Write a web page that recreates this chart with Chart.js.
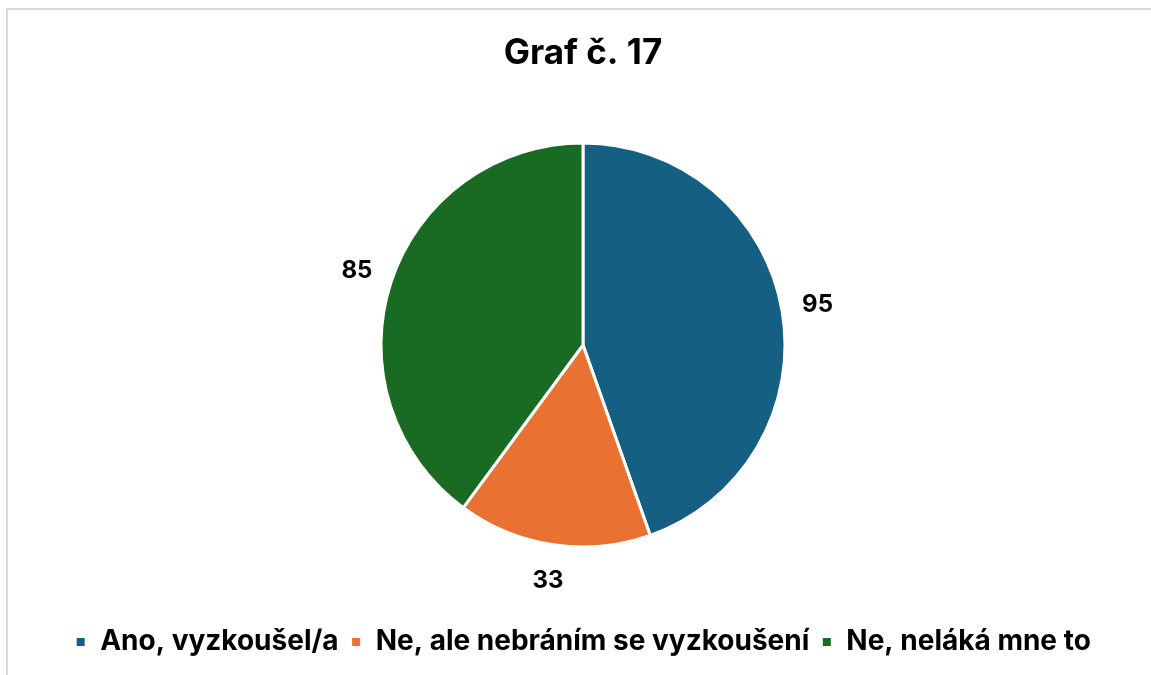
<!DOCTYPE html>
<html>
<head>
<meta charset="utf-8">
<script src="https://cdn.jsdelivr.net/npm/chart.js@4"></script>
<style>
  html, body { margin: 0; padding: 0; background: #fff; }
  #box {
    position: absolute; left: 6px; top: 8px; width: 1145px; height: 667px;
    border-top: 2px solid #d9d9d9; border-left: 2px solid #d9d9d9;
  }
  #wrap { width: 1143px; height: 665px; }
</style>
</head>
<body>
<div id="box"><div id="wrap"><canvas id="pieChart"></canvas></div></div>
<script>
// data
const categories = ["Ano, vyzkoušel/a", "Ne, ale nebráním se vyzkoušení", "Ne, neláká mne to"];
const answers = [95, 33, 85];
const sliceColors = ["#156082", "#E97132", "#196B24"];
const chartTitle = "Graf č. 17";

// value labels outside the slices
const outsideLabels = {
  id: "outsideLabels",
  afterDatasetsDraw(chart) {
    const ctx = chart.ctx;
    const meta = chart.getDatasetMeta(0);
    ctx.save();
    ctx.font = "bold 24px Inter";
    ctx.fillStyle = "#000";
    ctx.textAlign = "center";
    ctx.textBaseline = "middle";
    meta.data.forEach((arc, i) => {
      const p = arc.getProps(["x", "y", "startAngle", "endAngle", "outerRadius"], true);
      const mid = (p.startAngle + p.endAngle) / 2;
      const r = p.outerRadius + 36;
      ctx.fillText(answers[i], p.x + Math.cos(mid) * r, p.y + Math.sin(mid) * r);
    });
    ctx.restore();
  }
};

Chart.defaults.color = "#000";
Chart.defaults.font.family = "Inter";

new Chart(document.getElementById("pieChart"), {
  type: "pie",
  data: {
    labels: categories,
    datasets: [
      {
        data: answers,
        backgroundColor: sliceColors,
        borderColor: "#fff",
        borderWidth: 3,
        radius: 202,
      },
    ],
  },
  options: {
    responsive: true,
    maintainAspectRatio: false,
    animation: false,
    layout: { padding: { top: 0, bottom: 9, left: 7 } },
    plugins: {
      title: {
        display: true,
        text: chartTitle,
        font: { size: 35, weight: "bold" },
        padding: { top: 22, bottom: 0 },
      },
      legend: {
        position: "bottom",
        labels: {
          boxWidth: 11,
          boxHeight: 11,
          padding: 12,
          font: { size: 28, weight: "bold" },
        },
      },
      tooltip: { enabled: false },
    },
  },
  plugins: [outsideLabels],
});
</script>
</body>
</html>
